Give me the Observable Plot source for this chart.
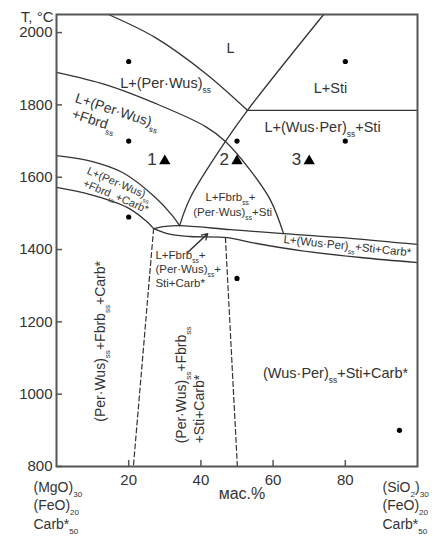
<!DOCTYPE html>
<html>
<head>
<meta charset="utf-8">
<script src="https://cdn.jsdelivr.net/npm/d3@7"></script>
<script src="https://cdn.jsdelivr.net/npm/@observablehq/plot@0.6"></script>
<style>
  body { margin: 0; background: #fff; }
  #chart svg { display: block; }
</style>
</head>
<body>
<div id="chart"></div>
<script>
// Axis ticks
const xTicks = [20, 40, 60, 80];
const yTicks = [800, 1000, 1200, 1400, 1600, 1800, 2000];

// Phase boundaries, [wt.% , T °C]
const liquidusPW   = [[14.4, 2050], [27.4, 1986], [41.3, 1887], [52.9, 1785]];
const liquidusSti  = [[74.0, 2050], [52.9, 1785], [46.8, 1699], [37.1, 1544], [34.1, 1466]];
const stiIsotherm  = [[52.9, 1785], [100, 1785]];
const fbrdBoundary = [[0, 1890], [13.6, 1856], [27.4, 1804], [41.3, 1740], [46.8, 1699], [53.7, 1619], [59.3, 1536], [62.9, 1444]];
const carbBoundary = [[0, 1660], [8.9, 1646], [18.3, 1613], [27.4, 1544], [32.1, 1494], [34.1, 1466]];
const solidusLeft  = [[0, 1572], [9.4, 1552], [19.7, 1516], [24.7, 1480], [26.9, 1458]];
const upperSolvus  = [[26.9, 1458], [30.2, 1464], [34.1, 1466], [48.2, 1455], [62.9, 1444], [81.4, 1431], [100, 1414]];
const lowerSolvus  = [[26.9, 1458], [31.6, 1442], [37.1, 1436], [47.4, 1433], [53.7, 1420], [67.6, 1397], [84.2, 1378], [100, 1364]];
const dashedLeft   = [[26.9, 1458], [21.3, 800]];
const dashedRight  = [[46.8, 1433], [50.1, 800]];

// Experimental compositions
const sampleX = [20, 20, 20, 50, 50, 80, 80, 95];
const sampleT = [1920, 1700, 1490, 1700, 1320, 1920, 1700, 900];
const runLabels = ["1", "2", "3"];
const runX = [30, 50, 70];
const runT = [1645, 1645, 1645];

// Phase-field labels ("_{..}" marks a subscript)
const bigLabels = [
  {text: "L", x: 48.2, y: 1956},
  {text: "L+Sti", x: 75.9, y: 1845},
  {text: "L+(Per·Wus)_{ss}", x: 30.2, y: 1859},
  {text: "L+(Wus·Per)_{ss}+Sti", x: 73.7, y: 1737},
  {text: "(Wus·Per)_{ss}+Sti+Carb*", x: 77.3, y: 1057}
];
const fbrdLabel = [
  {text: "L+(Per·Wus)_{ss}", x: 5.3, y: 1820},
  {text: "+Fbrd_{ss}", x: 4.4, y: 1776}
];
const carbBandLabel = [
  {text: "L+(Per·Wus)_{ss}", x: 8.6, y: 1619},
  {text: "+Fbrd_{ss}+Carb*", x: 7.5, y: 1585}
];
const stiFieldLabel = [
  {text: "L+Fbrb_{ss}+", x: 48.2, y: 1544},
  {text: "(Per·Wus)_{ss}+Sti", x: 48.8, y: 1502}
];
const lensLabel = [
  {text: "L+Fbrb_{ss}+", x: 27.4, y: 1383},
  {text: "(Per·Wus)_{ss}+", x: 27.4, y: 1345},
  {text: "Sti+Carb*", x: 27.4, y: 1306}
];
const rightBandLabel = [{text: "L+(Wus·Per)_{ss}+Sti+Carb*", x: 62.9, y: 1428}];
const leftSubsolidusLabel = [{text: "(Per·Wus)_{ss}+Fbrb_{ss}+Carb*", x: 12.2, y: 1146}];
const midSubsolidusLabel = [
  {text: "(Per·Wus)_{ss}+Fbrb_{ss}", x: 34.6, y: 864},
  {text: "+Sti+Carb*", x: 39.6, y: 864}
];
const pointerFrom = [36.3, 1392];
const pointerTo = [41.9, 1444];

const leftEnd = "(MgO)_{30}\n(FeO)_{20}\nCarb*_{50}";
const rightEnd = "(SiO_{2})_{30}\n(FeO)_{20}\nCarb*_{50}";

const rows = (curves) => curves.flatMap((pts, i) => pts.map(([x, y]) => ({id: i, x, y})));
const solidRows = rows([liquidusPW, liquidusSti, stiIsotherm, fbrdBoundary, carbBoundary, solidusLeft, upperSolvus, lowerSolvus]);
const dashRows = rows([dashedLeft, dashedRight]);

const ink = "#333";

const chart = Plot.plot({
  width: 438,
  height: 536,
  marginLeft: 56,
  marginRight: 21,
  marginTop: 14,
  marginBottom: 70,
  x: {domain: [0, 100], label: null},
  y: {domain: [800, 2050], label: null},
  style: {fontFamily: "'Liberation Sans', Arial, sans-serif", fontSize: "15px", color: ink, background: "#fff", overflow: "visible"},
  marks: [
    // labels outside, tick marks pointing into the frame
    Plot.axisY(yTicks, {tickSize: 0, tickPadding: 4, fontSize: 15, tickFormat: (d) => String(d), label: null}),
    Plot.axisY(yTicks, {tickSize: 6, dx: 6, fill: "none", stroke: "#555", strokeWidth: 1.5, label: null}),
    Plot.axisX(xTicks, {tickSize: 0, tickPadding: 8, fontSize: 15, tickFormat: (d) => String(d), label: null}),
    Plot.axisX(xTicks, {tickSize: 6, dy: -6, fill: "none", stroke: "#555", strokeWidth: 1.5, label: null}),
    Plot.line(solidRows, {x: "x", y: "y", z: "id", curve: "catmull-rom", stroke: ink, strokeWidth: 1.3}),
    Plot.line(dashRows, {x: "x", y: "y", z: "id", stroke: ink, strokeWidth: 1.2, strokeDasharray: "5,3"}),
    Plot.frame({stroke: "#555", strokeWidth: 2}),
    Plot.dot(sampleX, {x: (d) => d, y: (d, i) => sampleT[i], r: 2.6, fill: "#000", stroke: null}),
    Plot.dot(runLabels, {x: (d, i) => runX[i], y: (d, i) => runT[i], symbol: "triangle", r: 4.2, fill: "#000", stroke: null}),
    Plot.text(runLabels, {x: (d, i) => runX[i], y: (d, i) => runT[i], text: (d) => d, dx: -8, dy: -1, textAnchor: "end", fontSize: 17}),
    Plot.text(bigLabels, {x: "x", y: "y", text: "text", fontSize: 14.5}),
    Plot.text(fbrdLabel, {x: "x", y: "y", text: "text", textAnchor: "start", rotate: 18, fontSize: 14}),
    Plot.text(carbBandLabel, {x: "x", y: "y", text: "text", textAnchor: "start", rotate: 23, fontSize: 11}),
    Plot.text(stiFieldLabel, {x: "x", y: "y", text: "text", fontSize: 11.5}),
    Plot.text(lensLabel, {x: "x", y: "y", text: "text", textAnchor: "start", fontSize: 11.5}),
    Plot.text(rightBandLabel, {x: "x", y: "y", text: "text", textAnchor: "start", rotate: 6, fontSize: 11.5}),
    Plot.text(leftSubsolidusLabel, {x: "x", y: "y", text: "text", rotate: -90, fontSize: 14}),
    Plot.text(midSubsolidusLabel, {x: "x", y: "y", text: "text", textAnchor: "start", rotate: -90, fontSize: 14}),
    Plot.arrow([0], {x1: pointerFrom[0], y1: pointerFrom[1], x2: pointerTo[0], y2: pointerTo[1], stroke: ink, strokeWidth: 1.4, headLength: 7}),
    Plot.text(["T, °C"], {frameAnchor: "top-left", dx: -3, dy: -3, textAnchor: "end", fontSize: 15}),
    Plot.text(["мас.%"], {frameAnchor: "bottom", dx: 5, dy: 32, fontSize: 16}),
    Plot.text([leftEnd], {frameAnchor: "bottom-left", dx: -23, dy: 12, textAnchor: "start", lineAnchor: "top", lineHeight: 1.32, fontSize: 14}),
    Plot.text([rightEnd], {frameAnchor: "bottom-right", dx: -35, dy: 12, textAnchor: "start", lineAnchor: "top", lineHeight: 1.32, fontSize: 14})
  ]
});

// Turn "_{..}" runs into subscript tspans
function subscripts(root) {
  const ns = "http://www.w3.org/2000/svg";
  root.querySelectorAll("text, tspan").forEach((el) => {
    if (el.children.length) return;
    const s = el.textContent;
    if (!s.includes("_{")) return;
    el.textContent = "";
    const re = /_\{([^}]*)\}/g;
    let last = 0, m;
    while ((m = re.exec(s))) {
      if (m.index > last) el.appendChild(document.createTextNode(s.slice(last, m.index)));
      const t = document.createElementNS(ns, "tspan");
      t.setAttribute("style", "font-size:58%");
      t.setAttribute("baseline-shift", "sub");
      t.textContent = m[1];
      el.appendChild(t);
      last = re.lastIndex;
    }
    if (last < s.length) el.appendChild(document.createTextNode(s.slice(last)));
  });
}
subscripts(chart);
document.getElementById("chart").appendChild(chart);
</script>
</body>
</html>
